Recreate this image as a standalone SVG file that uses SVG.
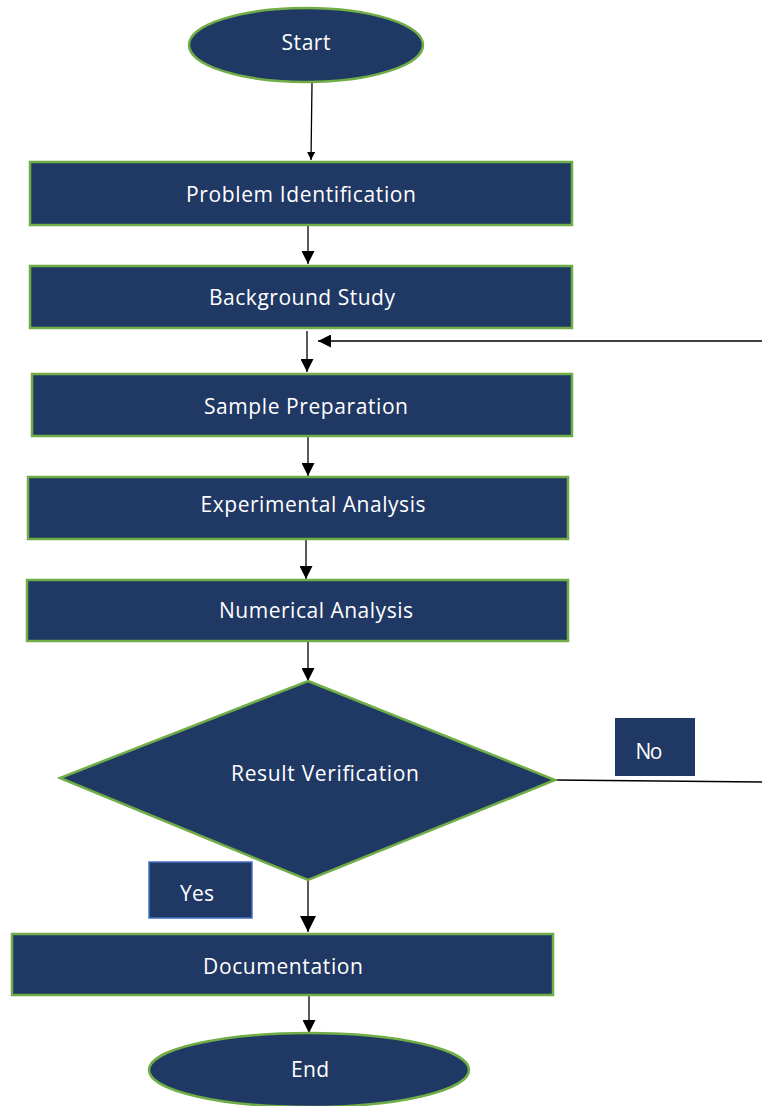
<svg xmlns="http://www.w3.org/2000/svg" width="762" height="1106" viewBox="0 0 762 1106">
<defs>
<style>
.n{fill:#1f3864;stroke:#70ad47;stroke-width:2.5}
.t{fill:#ffffff;font-family:"Open Sans","Noto Sans",sans-serif;font-size:21px;text-anchor:middle;dominant-baseline:central}
.c{stroke:#000;stroke-width:1.3;fill:none}
</style>
<marker id="ah" markerWidth="13" markerHeight="13" refX="10" refY="5" orient="auto" markerUnits="userSpaceOnUse" viewBox="0 0 10 10"><path d="M0,0 L10,5 L0,10 z" fill="#000"/></marker>
<marker id="ahs" markerWidth="8" markerHeight="8" refX="10" refY="5" orient="auto" markerUnits="userSpaceOnUse" viewBox="0 0 10 10"><path d="M0,0 L10,5 L0,10 z" fill="#000"/></marker>
<marker id="ahb" markerWidth="16" markerHeight="16" refX="10" refY="5" orient="auto" markerUnits="userSpaceOnUse" viewBox="0 0 10 10"><path d="M0,0 L10,5 L0,10 z" fill="#000"/></marker>
</defs>
<rect width="762" height="1106" fill="#fff"/>
<g id="connectors">
<line class="c" x1="312" y1="83" x2="311" y2="160" marker-end="url(#ahs)" stroke-width="1"/>
<line class="c" x1="308" y1="226" x2="308" y2="264" marker-end="url(#ah)"/>
<line class="c" x1="307" y1="331" x2="307" y2="372" marker-end="url(#ah)"/>
<line class="c" x1="762" y1="341" x2="318" y2="341" marker-end="url(#ah)" stroke="#555"/>
<line class="c" x1="308" y1="437" x2="308" y2="476" marker-end="url(#ah)"/>
<line class="c" x1="306" y1="540" x2="306" y2="579" marker-end="url(#ah)"/>
<line class="c" x1="308" y1="642" x2="308" y2="681" marker-end="url(#ah)"/>
<line class="c" x1="555" y1="780" x2="762" y2="782" stroke-width="2" stroke="#333"/>
<line class="c" x1="308" y1="880" x2="308" y2="932" marker-end="url(#ahb)" stroke-width="2" stroke="#555"/>
<line class="c" x1="309" y1="996" x2="309" y2="1033" marker-end="url(#ah)"/>
</g>
<g id="start"><ellipse class="n" cx="306" cy="45" rx="117" ry="37"/><text class="t" x="306" y="42" textLength="49">Start</text></g>
<g id="problem"><rect class="n" x="30" y="162" width="542" height="63"/><text class="t" x="301" y="194" textLength="230">Problem Identification</text></g>
<g id="background"><rect class="n" x="30" y="266" width="542" height="62"/><text class="t" x="302" y="297" textLength="186">Background Study</text></g>
<g id="sample"><rect class="n" x="32" y="374" width="540" height="62"/><text class="t" x="306" y="406" textLength="204">Sample Preparation</text></g>
<g id="experimental"><rect class="n" x="28" y="477" width="540" height="62"/><text class="t" x="313" y="504" textLength="225">Experimental Analysis</text></g>
<g id="numerical"><rect class="n" x="27" y="580" width="541" height="61"/><text class="t" x="316" y="610" textLength="194">Numerical Analysis</text></g>
<g id="verification"><polygon class="n" points="308,681 555,780 308,880 60,778"/><text class="t" x="325" y="773" textLength="188">Result Verification</text></g>
<g id="no"><rect x="615" y="718" width="80" height="58" fill="#1f3864"/><text class="t" x="649" y="751" textLength="27">No</text></g>
<g id="yes"><rect x="149" y="862" width="103" height="56" fill="#1f3864" stroke="#4472c4" stroke-width="1.5"/><text class="t" x="197" y="893" textLength="34">Yes</text></g>
<g id="documentation"><rect class="n" x="12" y="934" width="541" height="61"/><text class="t" x="283" y="966" textLength="160">Documentation</text></g>
<g id="end"><ellipse class="n" cx="309" cy="1070" rx="160" ry="37"/><text class="t" x="310" y="1069" textLength="38">End</text></g>
</svg>
